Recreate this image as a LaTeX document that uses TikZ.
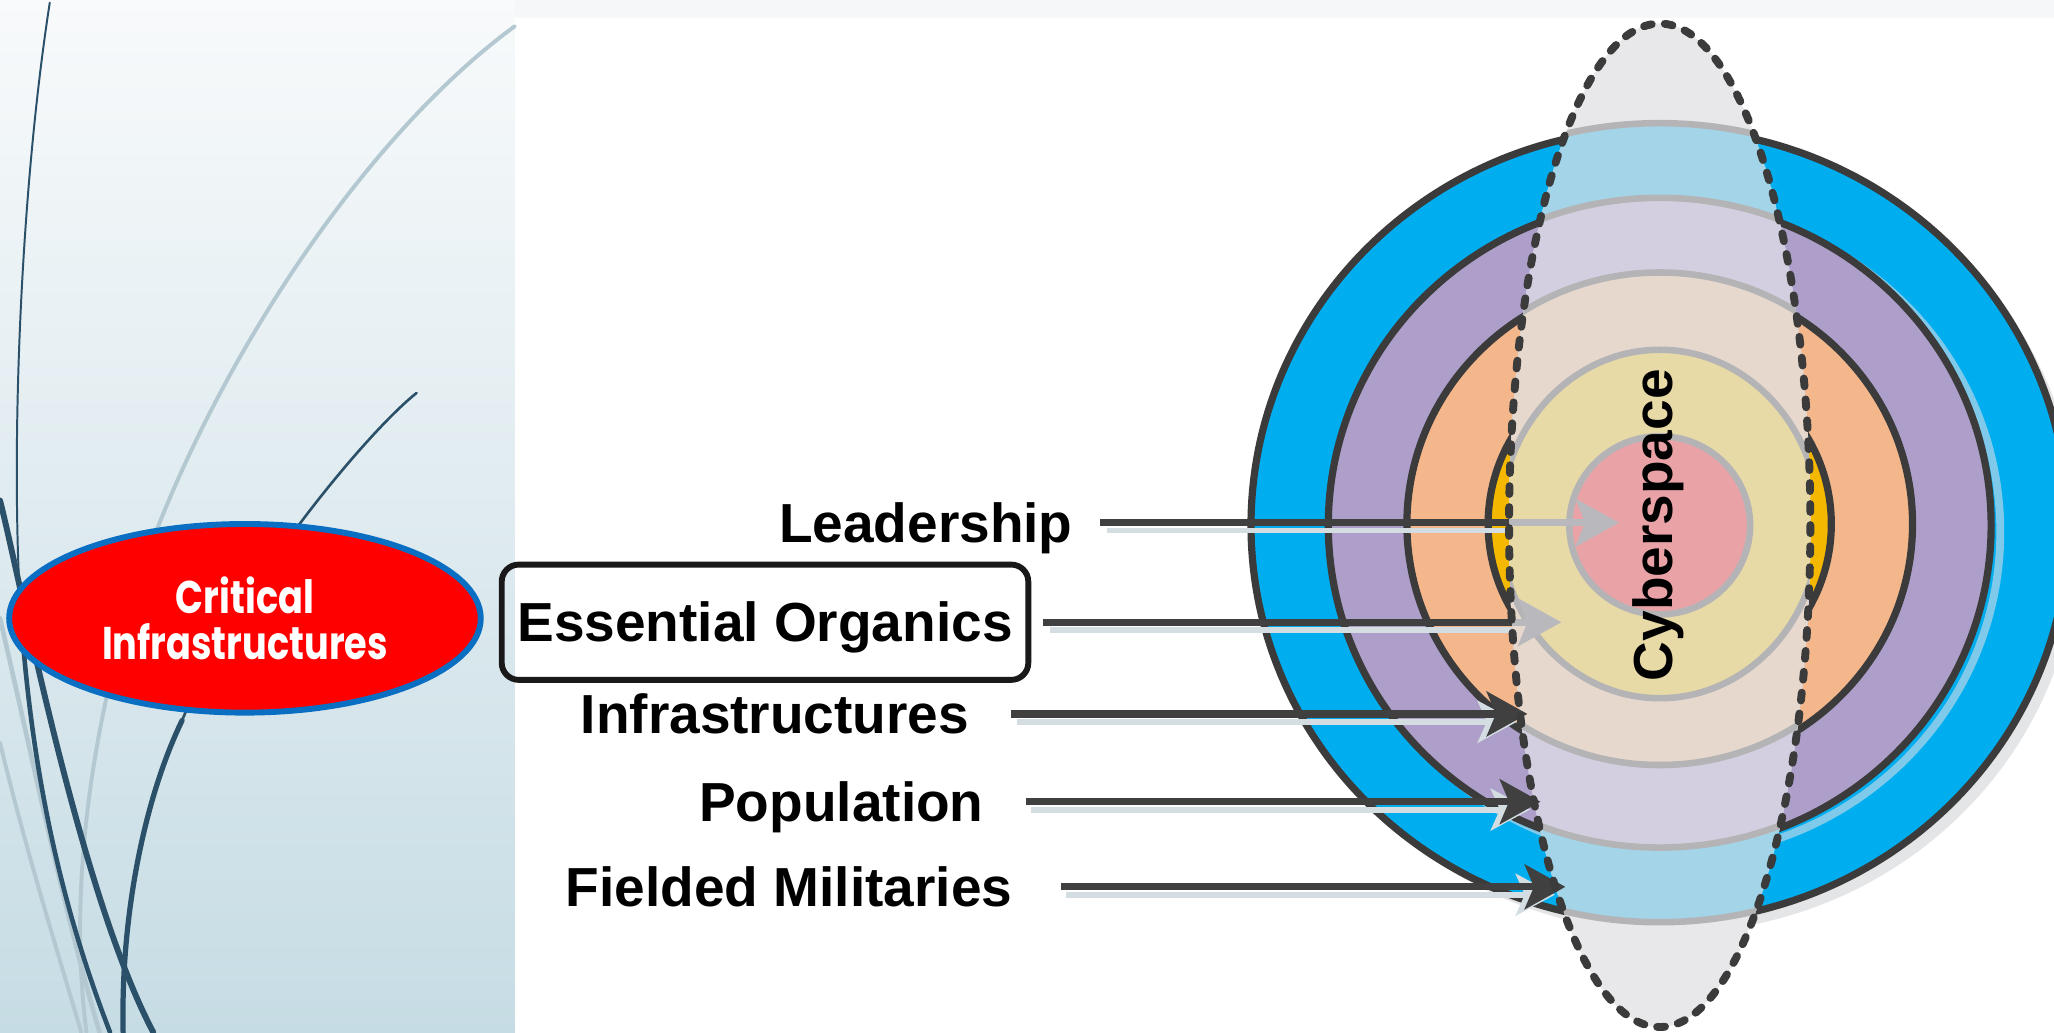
\documentclass[tikz,border=0pt]{standalone}
\usepackage{graphicx}
\usepackage{fontspec}
\setmainfont{Liberation Sans}
\newfontfamily\popp{Poppins}
\usetikzlibrary{arrows.meta,shapes.geometric}
\definecolor{panelTop}{HTML}{F8FAFB}
\definecolor{panelBot}{HTML}{C6DCE4}
\definecolor{curveDark}{HTML}{2B5069}
\definecolor{curveLight}{HTML}{B3C8D0}
\definecolor{stripc}{HTML}{F5F7F8}
\definecolor{ringBlue}{HTML}{00AEEF}
\definecolor{ringPurple}{HTML}{AD9FCA}
\definecolor{ringOrange}{HTML}{F4B78C}
\definecolor{ringGold}{HTML}{F4B800}
\definecolor{outl}{HTML}{3B3B3B}
\definecolor{paleBlue}{HTML}{A3D4E8}
\definecolor{palePurple}{HTML}{D4CFE0}
\definecolor{paleOrange}{HTML}{E7D8CD}
\definecolor{paleYellow}{HTML}{E8DAA6}
\definecolor{pinkc}{HTML}{E9A3A7}
\definecolor{greyline}{HTML}{B4B4B6}
\definecolor{cyberFill}{HTML}{E8E8EA}
\definecolor{arrowDark}{HTML}{404040}
\definecolor{arrowPale}{HTML}{B9B9BD}
\definecolor{shadowc}{HTML}{D3DDE2}
\definecolor{ringShadow}{HTML}{E3E5E6}
\definecolor{echoBlue}{HTML}{7FCAEA}
\definecolor{ciBorder}{HTML}{0A6FC2}
\begin{document}
\begin{tikzpicture}[x=1pt,y=-1pt,
  lbl/.style={inner sep=0pt, font=\fontsize{42}{50}\selectfont\bfseries, text height=30pt, text depth=0pt},
  eobox/.style={draw=black!90, line width=4.5pt, rounded corners=13pt, minimum width=402pt, minimum height=88pt,
     inner sep=0pt, font=\fontsize{42}{50}\selectfont\bfseries, text height=30pt, text depth=0pt},
  darkring/.style={draw=outl, line width=5.5pt},
  palering/.style={draw=greyline, line width=5pt},
  darr/.style={draw=arrowDark, line width=5.5pt, -{Stealth[length=31pt,width=34pt,inset=7pt]}},
  darrplain/.style={draw=arrowDark, line width=5.5pt},
  parr/.style={draw=arrowPale, line width=5.5pt, -{Stealth[length=33pt,width=36pt,inset=7pt]}},
  sh/.style={draw=shadowc, line width=4.5pt, transform canvas={yshift=-6pt}},
  shtip/.style={draw=shadowc, line width=4.5pt, transform canvas={yshift=-6pt}, -{Stealth[length=30pt,width=32pt,inset=7pt]}},
  curved/.style={draw=curveDark, line cap=round},
  curvel/.style={draw=curveLight, line cap=round}
]
\useasboundingbox (0,0) rectangle (1568,788);
% backgrounds
\fill[white] (0,0) rectangle (1568,788);
\fill[stripc] (393,0) rectangle (1568,14);
\shade[top color=panelTop, bottom color=panelBot] (0,0) rectangle (393,788);
% decorative curves
\draw[curvel, line width=3pt] (393,20) .. controls (270,110) and (150,300) .. (100,460) .. controls (70,560) and (52,680) .. (66,788);
\draw[curvel, line width=3.5pt] (0,472) .. controls (25,580) and (50,700) .. (76,788);
\draw[curvel, line width=3pt] (0,567) .. controls (20,650) and (45,730) .. (62,788);
\draw[curved, line width=1.5pt] (38,2) .. controls (15,150) and (8,350) .. (16,470);
\draw[curved, line width=3.5pt] (16,470) .. controls (25,600) and (50,700) .. (84,788);
\draw[curved, line width=4.5pt] (0,382) .. controls (15,440) and (60,680) .. (117,788);
\draw[curved, line width=2pt] (318,300) .. controls (280,330) and (180,450) .. (139,550);
\draw[curved, line width=4pt] (139,550) .. controls (110,610) and (92,700) .. (94,788);
% critical infrastructures
\node[ellipse, fill=red, draw=ciBorder, line width=4.5pt, minimum width=360pt, minimum height=144pt, inner sep=0pt,
  text=white, align=center, font=\popp\fontsize{28}{35}\selectfont\bfseries] (ci) at (187,472)
  {\scalebox{1}[1.25]{Critical}\\\scalebox{1}[1.25]{Infrastructures}};
% rings
\fill[ringShadow] (1275,409) ellipse [x radius=312, y radius=303];
\path[darkring, fill=ringBlue] (1267,401) ellipse [x radius=312, y radius=303];
\draw[echoBlue, line width=6pt] (1274,406) ellipse [x radius=253, y radius=248];
\path[darkring, fill=ringPurple] (1267,401) ellipse [x radius=253, y radius=248];
\path[darkring, fill=ringOrange] (1267,400) ellipse [x radius=193, y radius=188];
\path[darkring, fill=ringGold] (1267,400) ellipse [x radius=131, y radius=130];
% labels
\node[lbl, anchor=east] (lead) at (819,399) {Leadership};
\node[eobox] (eo) at (584,475) {Essential Organics};
\node[lbl, anchor=east] (infra) at (740,545) {Infrastructures};
\node[lbl, anchor=east] (pop) at (751,612) {Population};
\node[lbl, anchor=east] (fm) at (773,677) {Fielded Militaries};
\coordinate (leadB) at (1152,399);
\coordinate (leadT) at (1236,399);
\coordinate (eoB) at (1154,475);
\coordinate (eoT) at (1192,475);
\coordinate (infraT) at (1166,545);
\coordinate (popT) at (1176,612);
\coordinate (fmT) at (1195,677);
% arrow shadows
\draw[sh, shorten <=26pt] (lead.east) -- (leadB);
\draw[sh, shorten <=14pt] (eo.east |- eoB) -- (eoB);
\draw[shtip, shorten <=36pt] (infra.east) -- ([xshift=-8pt]infraT);
\draw[shtip, shorten <=36pt] (pop.east) -- ([xshift=-8pt]popT);
\draw[shtip, shorten <=41pt] (fm.east) -- ([xshift=-8pt]fmT);
% cyberspace overlay
\begin{scope}
  \clip (1267,401) ellipse [x radius=115, y radius=383];
  \fill[cyberFill] (1267,401) ellipse [x radius=115, y radius=383];
  \path[palering, fill=paleBlue] (1267,399) ellipse [x radius=312, y radius=305];
  \path[palering, fill=palePurple] (1267,399) ellipse [x radius=253, y radius=248];
  \path[palering, fill=paleOrange] (1267,396) ellipse [x radius=193, y radius=188];
  \path[palering, fill=paleYellow] (1267,400) ellipse [x radius=122, y radius=133];
\end{scope}
\path[palering, fill=pinkc] (1267,401) ellipse [x radius=69, y radius=68];
% pale arrow parts
\draw[parr] (leadB) -- (leadT);
\draw[parr] (eoB) -- (eoT);
% dark arrows
\draw[darrplain, shorten <=21pt] (lead.east) -- (leadB);
\draw[darrplain, shorten <=9pt] (eo.east |- eoB) -- (eoB);
\draw[darr, shorten <=32pt] (infra.east) -- (infraT);
\draw[darr, shorten <=32pt] (pop.east) -- (popT);
\draw[darr, shorten <=37pt] (fm.east) -- (fmT);
% cyberspace outline and label
\draw[draw=outl, line width=6pt, line cap=round, dash pattern=on 6pt off 10pt] (1267,401) ellipse [x radius=115, y radius=383];
\node[rotate=90, font=\fontsize{42}{50}\selectfont\bfseries, inner sep=0pt] (cyber) at (1266,401) {Cyberspace};
\end{tikzpicture}
\end{document}
